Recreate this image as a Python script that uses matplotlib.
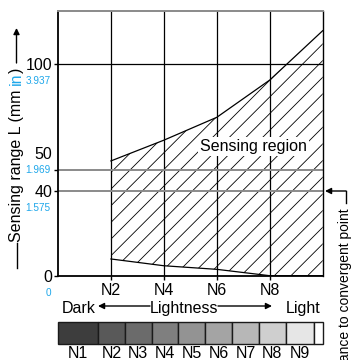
import matplotlib
matplotlib.use("Agg")
import numpy as np
import matplotlib.pyplot as plt
from matplotlib import font_manager
from matplotlib.font_manager import FontProperties
from matplotlib.lines import Line2D
from matplotlib.patches import FancyArrowPatch

# ---- data ----
lightness_x = [2, 4, 6, 8, 10]
range_upper = [54.2, 64.0, 74.8, 92.4, 115.7]
range_lower = [7.9, 4.7, 3.0, 0.0, 0.0]

grid_x = [2, 4, 6, 8]
xtick_labels = ["N2", "N4", "N6", "N8"]
tick_mm = [0, 40, 50, 100]
tick_in = ["0", "1.575", "1.969", "3.937"]

chip_labels = ["N1", "N2", "N3", "N4", "N5", "N6", "N7", "N8", "N9", ""]
chip_edges = [0, 1.5, 2.53, 3.54, 4.55, 5.56, 6.57, 7.6, 8.6, 9.66, 10]
chip_colors = ["#3d3d3d", "#595959", "#6b6b6b", "#7f7f7f", "#939393",
               "#a4a4a4", "#b7b7b7", "#cfcfcf", "#e6e6e6", "#ffffff"]

BLUE = "#1ea7ea"
W, H = 352, 360

# blue inch labels: narrow Arial-like face if installed, else a small regular one
narrow = FontProperties(family="Liberation Sans", size=7.2)
for f in font_manager.fontManager.ttflist:
    if f.name == "Liberation Sans Narrow" and f.style == "normal" \
            and f.weight in (400, "normal", "regular"):
        narrow = FontProperties(fname=f.fname, size=8.8)
        break

plt.rcParams["font.family"] = ["Liberation Sans", "DejaVu Sans"]
plt.rcParams["hatch.linewidth"] = 0.6
FS = 11.5


# pixel position (from top left) -> figure fraction
def fx(x):
    return x / W


def fy(y):
    return 1 - y / H


fig = plt.figure(figsize=(W / 100, H / 100), dpi=100)

# ---- main chart ----
ax = fig.add_axes([fx(58), fy(275.7), (322.7 - 58) / W, (275.7 - 11) / H])
ax.set_xlim(0, 10)
ax.set_ylim(0, 125)

ax.fill_between(lightness_x, range_lower, range_upper, facecolor="none",
                edgecolor="black", hatch="//", linewidth=0)
ax.plot(lightness_x, range_upper, color="black", lw=0.9)
ax.plot(lightness_x, range_lower, color="black", lw=0.9)

for x in grid_x:
    ax.axvline(x, color="black", lw=0.9)
ax.axhline(100, color="black", lw=0.9)
ax.axhline(50, color="#8a8a8a", lw=1.4)
ax.axhline(40, color="#8a8a8a", lw=1.4)

for side in ["left", "bottom", "right"]:
    ax.spines[side].set_color("black")
ax.spines["left"].set_linewidth(1.3)
ax.spines["bottom"].set_linewidth(1.3)
ax.spines["right"].set_linewidth(1.0)
ax.spines["top"].set_color("#8a8a8a")
ax.spines["top"].set_linewidth(1.4)

ax.set_xticks(grid_x, xtick_labels)
ax.set_yticks(tick_mm, [""] * len(tick_mm))
ax.tick_params(direction="out", length=3, width=1, labelsize=FS, pad=2)

# mm label on the line, inch label under it; at 50 both move up one step
for v, s in zip(tick_mm, tick_in):
    up = 12.3 if v == 50 else 0
    ax.annotate(str(v), xy=(0, v), xycoords=("axes fraction", "data"),
                xytext=(-4.2, up), textcoords="offset points",
                ha="right", va="center_baseline", fontsize=FS)
    ax.annotate(s, xy=(0, v), xycoords=("axes fraction", "data"),
                xytext=(-5.2, up - 11.8), textcoords="offset points",
                ha="right", va="center_baseline", color=BLUE,
                fontproperties=narrow)

ax.text(7.4, 61, "Sensing region", ha="center", va="center", fontsize=FS,
        bbox=dict(facecolor="white", edgecolor="none", pad=1.5))

# ---- grey scale chips ----
cax = fig.add_axes([fx(58), fy(344), (322.7 - 58) / W, (344 - 321.7) / H])
cax.set_xlim(0, 10)
cax.set_ylim(0, 1)
cax.axis("off")
widths = np.diff(chip_edges)
cax.bar(chip_edges[:-1], 1, width=widths, align="edge", color=chip_colors,
        edgecolor="#1a1a1a", lw=1, clip_on=False)
for left, w, lab in zip(chip_edges[:-1], widths, chip_labels):
    cax.text(left + w / 2, -0.62, lab, ha="center", va="baseline", fontsize=FS)

# ---- Dark <- Lightness -> Light ----
fig.text(fx(61.5), fy(313), "Dark", ha="left", va="baseline", fontsize=FS)
fig.text(fx(183.5), fy(313), "Lightness", ha="center", va="baseline", fontsize=FS)
fig.text(fx(320.5), fy(313), "Light", ha="right", va="baseline", fontsize=FS)
for a, b in [(150, 98), (218, 272)]:
    fig.add_artist(FancyArrowPatch((fx(a), fy(306)), (fx(b), fy(306)),
                                   transform=fig.transFigure, arrowstyle="-|>",
                                   mutation_scale=9, lw=1, color="black",
                                   shrinkA=0, shrinkB=0))

# ---- y label: — Sensing range L (mm in) —> ----
xb = fx(20.5)
t1 = fig.text(xb, fy(242), "Sensing range L (mm", rotation=90,
              rotation_mode="anchor", ha="left", va="baseline", fontsize=FS)
t2 = ax.annotate("in", xy=(xb, 1), xycoords=("figure fraction", t1),
                 xytext=(0, 3.2), textcoords="offset points", rotation=90,
                 rotation_mode="anchor", ha="left", va="baseline",
                 color=BLUE, fontsize=FS, annotation_clip=False)
ax.annotate(")", xy=(xb, 1), xycoords=("figure fraction", t2),
            rotation=90, rotation_mode="anchor", ha="left", va="baseline",
            fontsize=FS, annotation_clip=False)
fig.add_artist(Line2D([fx(16.5), fx(16.5)], [fy(243), fy(268)],
                      transform=fig.transFigure, color="black", lw=1))
fig.add_artist(FancyArrowPatch((fx(16.5), fy(63)), (fx(16.5), fy(28)),
                               transform=fig.transFigure, arrowstyle="-|>",
                               mutation_scale=9, lw=1, color="black",
                               shrinkA=0, shrinkB=0))

# ---- distance to convergent point ----
fig.add_artist(Line2D([fx(346), fx(346)], [fy(203), fy(191)],
                      transform=fig.transFigure, color="black", lw=1))
fig.add_artist(FancyArrowPatch((fx(346), fy(191)), (fx(325), fy(191)),
                               transform=fig.transFigure, arrowstyle="-|>",
                               mutation_scale=9, lw=1, color="black",
                               shrinkA=0, shrinkB=0))
fig.text(fx(345), fy(208), "Distance to convergent point", rotation=90,
         ha="center", va="top", fontsize=10)

fig.savefig("out.png", dpi=100)
